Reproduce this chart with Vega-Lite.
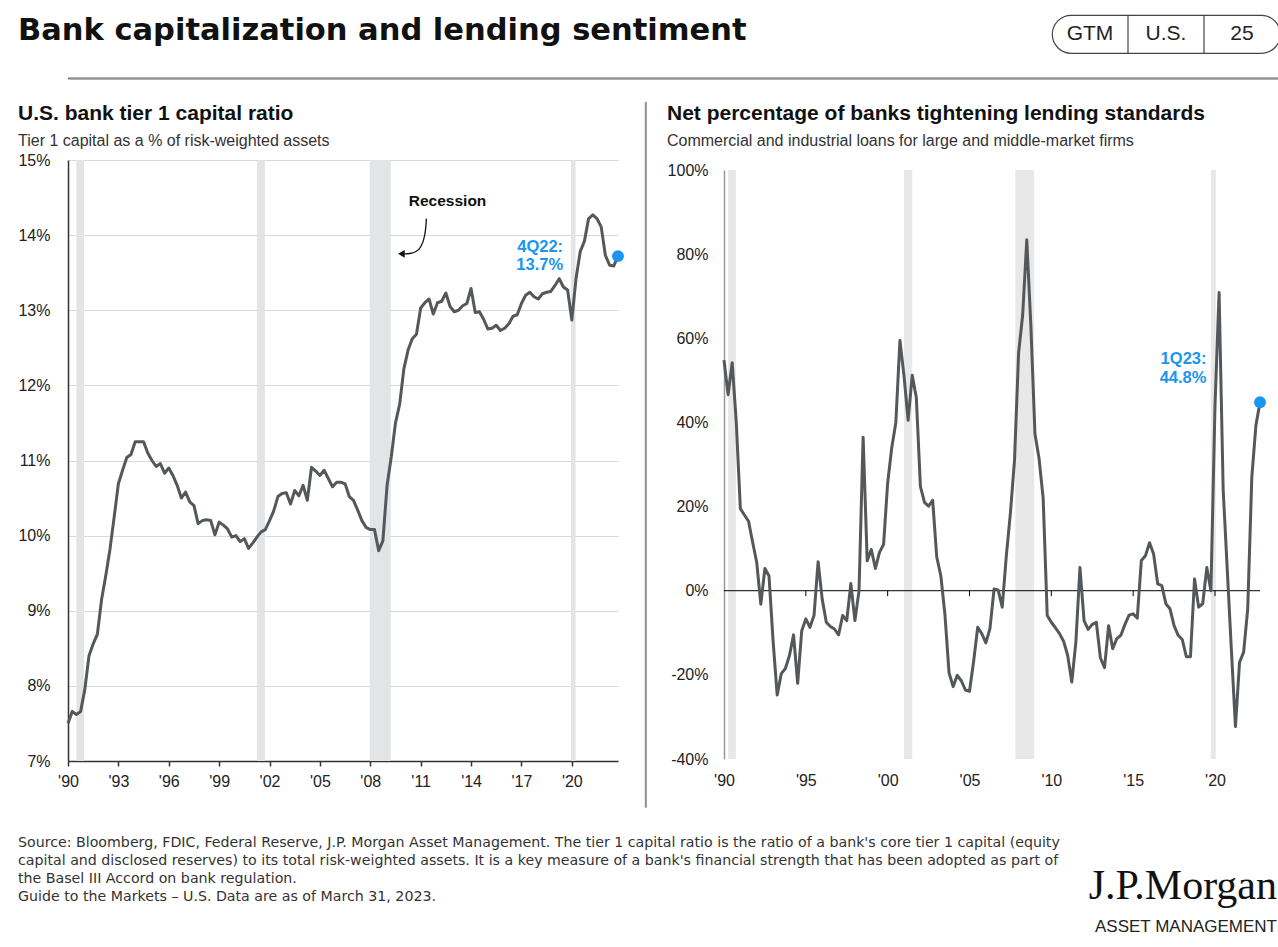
{
  "$schema": "https://vega.github.io/schema/vega-lite/v6.json",
  "background": "white",
  "padding": {"left": 17, "top": 13, "right": 0, "bottom": 0},
  "config": {
    "font": "Liberation Sans",
    "view": {"stroke": null},
    "axis": {"labelFont": "Liberation Sans", "labelFontSize": 16, "labelColor": "#222", "title": null},
    "title": {"font": "Liberation Sans"}
  },
  "datasets": {
    "tier1": [
      {"t":1990,"v":7.5},{"t":1990.25,"v":7.66},{"t":1990.5,"v":7.62},{"t":1990.75,"v":7.66},
      {"t":1991,"v":7.95},{"t":1991.25,"v":8.4},{"t":1991.5,"v":8.56},{"t":1991.75,"v":8.69},
      {"t":1992,"v":9.15},{"t":1992.25,"v":9.47},{"t":1992.5,"v":9.82},{"t":1992.75,"v":10.25},
      {"t":1993,"v":10.69},{"t":1993.25,"v":10.87},{"t":1993.5,"v":11.04},{"t":1993.75,"v":11.08},
      {"t":1994,"v":11.25},{"t":1994.25,"v":11.25},{"t":1994.5,"v":11.25},{"t":1994.75,"v":11.1},
      {"t":1995,"v":11.0},{"t":1995.25,"v":10.92},{"t":1995.5,"v":10.96},{"t":1995.75,"v":10.83},
      {"t":1996,"v":10.9},{"t":1996.25,"v":10.8},{"t":1996.5,"v":10.67},{"t":1996.75,"v":10.5},
      {"t":1997,"v":10.58},{"t":1997.25,"v":10.45},{"t":1997.5,"v":10.4},{"t":1997.75,"v":10.16},
      {"t":1998,"v":10.2},{"t":1998.25,"v":10.21},{"t":1998.5,"v":10.2},{"t":1998.75,"v":10.01},
      {"t":1999,"v":10.18},{"t":1999.25,"v":10.14},{"t":1999.5,"v":10.09},{"t":1999.75,"v":9.98},
      {"t":2000,"v":10.0},{"t":2000.25,"v":9.92},{"t":2000.5,"v":9.96},{"t":2000.75,"v":9.83},
      {"t":2001,"v":9.9},{"t":2001.25,"v":9.98},{"t":2001.5,"v":10.05},{"t":2001.75,"v":10.08},
      {"t":2002,"v":10.2},{"t":2002.25,"v":10.33},{"t":2002.5,"v":10.52},{"t":2002.75,"v":10.56},
      {"t":2003,"v":10.57},{"t":2003.25,"v":10.42},{"t":2003.5,"v":10.6},{"t":2003.75,"v":10.53},
      {"t":2004,"v":10.67},{"t":2004.25,"v":10.47},{"t":2004.5,"v":10.91},{"t":2004.75,"v":10.86},
      {"t":2005,"v":10.8},{"t":2005.25,"v":10.87},{"t":2005.5,"v":10.76},{"t":2005.75,"v":10.65},
      {"t":2006,"v":10.71},{"t":2006.25,"v":10.71},{"t":2006.5,"v":10.69},{"t":2006.75,"v":10.52},
      {"t":2007,"v":10.47},{"t":2007.25,"v":10.34},{"t":2007.5,"v":10.2},{"t":2007.75,"v":10.11},
      {"t":2008,"v":10.08},{"t":2008.25,"v":10.08},{"t":2008.5,"v":9.8},{"t":2008.75,"v":9.93},
      {"t":2009,"v":10.67},{"t":2009.25,"v":11.05},{"t":2009.5,"v":11.5},{"t":2009.75,"v":11.75},
      {"t":2010,"v":12.22},{"t":2010.25,"v":12.47},{"t":2010.5,"v":12.62},{"t":2010.75,"v":12.68},
      {"t":2011,"v":13.03},{"t":2011.25,"v":13.1},{"t":2011.5,"v":13.15},{"t":2011.75,"v":12.95},
      {"t":2012,"v":13.1},{"t":2012.25,"v":13.12},{"t":2012.5,"v":13.23},{"t":2012.75,"v":13.05},
      {"t":2013,"v":12.98},{"t":2013.25,"v":13.0},{"t":2013.5,"v":13.06},{"t":2013.75,"v":13.09},
      {"t":2014,"v":13.29},{"t":2014.25,"v":12.97},{"t":2014.5,"v":12.98},{"t":2014.75,"v":12.88},
      {"t":2015,"v":12.75},{"t":2015.25,"v":12.76},{"t":2015.5,"v":12.8},{"t":2015.75,"v":12.73},
      {"t":2016,"v":12.76},{"t":2016.25,"v":12.82},{"t":2016.5,"v":12.92},{"t":2016.75,"v":12.94},
      {"t":2017,"v":13.09},{"t":2017.25,"v":13.2},{"t":2017.5,"v":13.24},{"t":2017.75,"v":13.18},
      {"t":2018,"v":13.15},{"t":2018.25,"v":13.22},{"t":2018.5,"v":13.24},{"t":2018.75,"v":13.25},
      {"t":2019,"v":13.33},{"t":2019.25,"v":13.42},{"t":2019.5,"v":13.31},{"t":2019.75,"v":13.27},
      {"t":2020,"v":12.87},{"t":2020.25,"v":13.42},{"t":2020.5,"v":13.78},{"t":2020.75,"v":13.92},
      {"t":2021,"v":14.22},{"t":2021.25,"v":14.27},{"t":2021.5,"v":14.22},{"t":2021.75,"v":14.11},
      {"t":2022,"v":13.73},{"t":2022.25,"v":13.6},{"t":2022.5,"v":13.59},{"t":2022.75,"v":13.72}
    ],
    "sloos": [
      {"t":1990,"v":54.8},{"t":1990.25,"v":46.6},{"t":1990.5,"v":54.2},{"t":1990.75,"v":40},
      {"t":1991,"v":19.5},{"t":1991.25,"v":18},{"t":1991.5,"v":16.5},{"t":1991.75,"v":11.5},
      {"t":1992,"v":6.7},{"t":1992.25,"v":-3.2},{"t":1992.5,"v":5.3},{"t":1992.75,"v":3.5},
      {"t":1993,"v":-12},{"t":1993.25,"v":-24.8},{"t":1993.5,"v":-19.7},{"t":1993.75,"v":-18.5},
      {"t":1994,"v":-15.4},{"t":1994.25,"v":-10.5},{"t":1994.5,"v":-22},{"t":1994.75,"v":-9.5},
      {"t":1995,"v":-6.7},{"t":1995.25,"v":-8.7},{"t":1995.5,"v":-5.9},{"t":1995.75,"v":6.9},
      {"t":1996,"v":-2},{"t":1996.25,"v":-7.5},{"t":1996.5,"v":-8.5},{"t":1996.75,"v":-9.1},
      {"t":1997,"v":-10.5},{"t":1997.25,"v":-5.9},{"t":1997.5,"v":-7.1},{"t":1997.75,"v":1.7},
      {"t":1998,"v":-7.1},{"t":1998.25,"v":0},{"t":1998.5,"v":36.5},{"t":1998.75,"v":7.1},
      {"t":1999,"v":9.8},{"t":1999.25,"v":5.3},{"t":1999.5,"v":9.1},{"t":1999.75,"v":11},
      {"t":2000,"v":25.6},{"t":2000.25,"v":34},{"t":2000.5,"v":40},{"t":2000.75,"v":59.5},
      {"t":2001,"v":51},{"t":2001.25,"v":40.5},{"t":2001.5,"v":51.2},{"t":2001.75,"v":46},
      {"t":2002,"v":24.8},{"t":2002.25,"v":21},{"t":2002.5,"v":20.1},{"t":2002.75,"v":21.5},
      {"t":2003,"v":8},{"t":2003.25,"v":3.5},{"t":2003.5,"v":-5.7},{"t":2003.75,"v":-19.5},
      {"t":2004,"v":-22.8},{"t":2004.25,"v":-20.1},{"t":2004.5,"v":-21.4},{"t":2004.75,"v":-23.6},
      {"t":2005,"v":-23.9},{"t":2005.25,"v":-16.9},{"t":2005.5,"v":-8.7},{"t":2005.75,"v":-10.2},
      {"t":2006,"v":-12.4},{"t":2006.25,"v":-9},{"t":2006.5,"v":0.4},{"t":2006.75,"v":0.2},
      {"t":2007,"v":-3.9},{"t":2007.25,"v":8.3},{"t":2007.5,"v":18.5},{"t":2007.75,"v":31},
      {"t":2008,"v":56.5},{"t":2008.25,"v":65.6},{"t":2008.5,"v":83.4},{"t":2008.75,"v":63},
      {"t":2009,"v":37.3},{"t":2009.25,"v":31.4},{"t":2009.5,"v":22},{"t":2009.75,"v":-5.9},
      {"t":2010,"v":-7.5},{"t":2010.25,"v":-8.8},{"t":2010.5,"v":-10.2},{"t":2010.75,"v":-12},
      {"t":2011,"v":-15.4},{"t":2011.25,"v":-21.7},{"t":2011.5,"v":-12.2},{"t":2011.75,"v":5.5},
      {"t":2012,"v":-7.1},{"t":2012.25,"v":-9.2},{"t":2012.5,"v":-8},{"t":2012.75,"v":-7.5},
      {"t":2013,"v":-16},{"t":2013.25,"v":-18.3},{"t":2013.5,"v":-8.3},{"t":2013.75,"v":-13.8},
      {"t":2014,"v":-11.4},{"t":2014.25,"v":-10.6},{"t":2014.5,"v":-8},{"t":2014.75,"v":-5.8},
      {"t":2015,"v":-5.5},{"t":2015.25,"v":-6.5},{"t":2015.5,"v":7.2},{"t":2015.75,"v":8.3},
      {"t":2016,"v":11.4},{"t":2016.25,"v":8.7},{"t":2016.5,"v":1.6},{"t":2016.75,"v":1.2},
      {"t":2017,"v":-3.1},{"t":2017.25,"v":-4.3},{"t":2017.5,"v":-8.3},{"t":2017.75,"v":-10.6},
      {"t":2018,"v":-11.6},{"t":2018.25,"v":-15.7},{"t":2018.5,"v":-15.7},{"t":2018.75,"v":2.8},
      {"t":2019,"v":-3.9},{"t":2019.25,"v":-3.1},{"t":2019.5,"v":5.5},{"t":2019.75,"v":0},
      {"t":2020,"v":44},{"t":2020.25,"v":70.9},{"t":2020.5,"v":24},{"t":2020.75,"v":5},
      {"t":2021,"v":-14},{"t":2021.25,"v":-32.3},{"t":2021.5,"v":-17},{"t":2021.75,"v":-14.6},
      {"t":2022,"v":-4.3},{"t":2022.25,"v":27},{"t":2022.5,"v":39.3},{"t":2022.75,"v":44.8}
    ],
    "rec1": [
      {"start":1990.5,"end":1990.95},{"start":2001.25,"end":2001.72},{"start":2007.97,"end":2009.22},{"start":2019.95,"end":2020.22}
    ],
    "rec2": [
      {"start":1990.25,"end":1990.73},{"start":2001.0,"end":2001.5},{"start":2007.8,"end":2008.95},{"start":2019.75,"end":2020.05}
    ]
  },
  "spacing": 21.5,
  "vconcat": [
    {
      "spacing": 0,
      "hconcat": [
        {
          "width": 983,
          "height": 1,
          "data": {"values": []},
          "mark": "point",
          "title": {
            "text": "Bank capitalization and lending sentiment",
            "orient": "bottom",
            "anchor": "start",
            "frame": "group",
            "offset": 0,
            "dx": -50,
            "font": "DejaVu Sans",
            "fontSize": 30.5,
            "fontWeight": "bold",
            "color": "#111"
          }
        },
        {
          "width": 228,
          "height": 38,
          "view": {"stroke": "#444", "strokeWidth": 1.2, "cornerRadius": 19},
          "data": {"values": [{"k": "GTM"}, {"k": "U.S."}, {"k": "25"}]},
          "layer": [
            {
              "mark": {"type": "text", "fontSize": 21, "color": "#222", "font": "Liberation Sans"},
              "encoding": {
                "x": {"field": "k", "type": "nominal", "scale": {"domain": ["GTM", "U.S.", "25"], "paddingInner": 0, "paddingOuter": 0}, "axis": null},
                "text": {"field": "k"}
              }
            },
            {
              "transform": [{"filter": "datum.k !== 'GTM'"}],
              "mark": {"type": "rule", "color": "#444", "strokeWidth": 1.2},
              "encoding": {
                "x": {"field": "k", "type": "nominal", "bandPosition": 0, "axis": null}
              }
            }
          ]
        }
      ]
    },
    {
      "width": 1211,
      "height": 1,
      "data": {"values": []},
      "mark": "point",
      "view": {"stroke": "#666", "strokeWidth": 1}
    },
    {
      "spacing": 20,
      "hconcat": [
        {
          "spacing": 3,
          "vconcat": [
            {
              "width": 550,
              "height": 1,
              "data": {"values": []},
              "mark": "point",
              "title": {
                "text": "U.S. bank tier 1 capital ratio",
                "subtitle": "Tier 1 capital as a % of risk-weighted assets",
                "orient": "bottom",
                "anchor": "start",
                "frame": "group",
                "offset": 0,
                "dx": -50,
                "fontSize": 21,
                "fontWeight": "bold",
                "color": "#111",
                "subtitleFont": "Liberation Sans",
                "subtitleFontSize": 16,
                "subtitleColor": "#333",
                "subtitlePadding": 9
              }
            },
            {
              "width": 550,
              "height": 601,
              "layer": [
                {
                  "data": {"name": "rec1"},
                  "mark": {"type": "rect", "color": "#e3e4e6"},
                  "encoding": {
                    "x": {
                      "field": "start", "type": "quantitative",
                      "scale": {"domain": [1990, 2022.75], "nice": false, "zero": false},
                      "axis": {
                        "values": [1990, 1993, 1996, 1999, 2002, 2005, 2008, 2011, 2014, 2017, 2020],
                        "labelExpr": "\"'\" + slice(toString(datum.value), 2)",
                        "grid": false,
                        "domainColor": "#333", "domainWidth": 1.5,
                        "tickColor": "#333", "tickSize": 5, "tickWidth": 1.5,
                        "labelPadding": 7, "labelFlush": false, "labelOverlap": false
                      }
                    },
                    "x2": {"field": "end"}
                  }
                },
                {
                  "data": {"name": "tier1"},
                  "mark": {"type": "line", "color": "#55585b", "strokeWidth": 3, "strokeJoin": "round"},
                  "encoding": {
                    "x": {"field": "t", "type": "quantitative"},
                    "y": {
                      "field": "v", "type": "quantitative",
                      "scale": {"domain": [7, 15], "nice": false, "zero": false},
                      "axis": {
                        "values": [7, 8, 9, 10, 11, 12, 13, 14, 15],
                        "labelExpr": "datum.value + '%'",
                        "ticks": false,
                        "domainColor": "#333", "domainWidth": 1.5,
                        "gridColor": "#dadada", "gridWidth": 1,
                        "labelPadding": 18
                      }
                    }
                  }
                },
                {
                  "data": {"name": "tier1"},
                  "transform": [{"filter": "datum.t == 2022.75"}],
                  "mark": {"type": "circle", "color": "#1a96f0", "size": 140, "opacity": 1},
                  "encoding": {
                    "x": {"field": "t", "type": "quantitative"},
                    "y": {"field": "v", "type": "quantitative"}
                  }
                },
                {
                  "data": {"values": [{"t": 2019.48, "v": 13.775, "label": "4Q22:\n13.7%"}]},
                  "mark": {"type": "text", "align": "right", "baseline": "alphabetic", "fontSize": 16.5, "fontWeight": "bold", "color": "#1a96f0", "lineBreak": "\n", "lineHeight": 18},
                  "encoding": {
                    "x": {"field": "t", "type": "quantitative"},
                    "y": {"field": "v", "type": "quantitative"},
                    "text": {"field": "label"}
                  }
                },
                {
                  "data": {"values": [{"t": 2012.6, "v": 14.45, "label": "Recession"}]},
                  "mark": {"type": "text", "baseline": "middle", "fontSize": 15.5, "fontWeight": "bold", "color": "#111"},
                  "encoding": {
                    "x": {"field": "t", "type": "quantitative"},
                    "y": {"field": "v", "type": "quantitative"},
                    "text": {"field": "label"}
                  }
                },
                {
                  "data": {"values": [
                    {"i": 0, "t": 2011.34, "v": 14.22},
                    {"i": 1, "t": 2011.28, "v": 14.0},
                    {"i": 2, "t": 2011.04, "v": 13.84},
                    {"i": 3, "t": 2010.74, "v": 13.775},
                    {"i": 4, "t": 2010.35, "v": 13.752},
                    {"i": 5, "t": 2010.0, "v": 13.75}
                  ]},
                  "mark": {"type": "line", "interpolate": "basis", "color": "#111", "strokeWidth": 1.3},
                  "encoding": {
                    "x": {"field": "t", "type": "quantitative"},
                    "y": {"field": "v", "type": "quantitative"},
                    "order": {"field": "i"}
                  }
                },
                {
                  "data": {"values": [{"t": 2009.85, "v": 13.752}]},
                  "mark": {"type": "point", "shape": "triangle-left", "filled": true, "color": "#111", "size": 60, "opacity": 1},
                  "encoding": {
                    "x": {"field": "t", "type": "quantitative"},
                    "y": {"field": "v", "type": "quantitative"}
                  }
                }
              ]
            }
          ]
        },
        {
          "width": 1,
          "height": 705,
          "data": {"values": []},
          "mark": "point",
          "view": {"stroke": "#666", "strokeWidth": 0.8}
        },
        {
          "spacing": 13,
          "vconcat": [
            {
              "width": 536,
              "height": 1,
              "data": {"values": []},
              "mark": "point",
              "title": {
                "text": "Net percentage of banks tightening lending standards",
                "subtitle": "Commercial and industrial loans for large and middle-market firms",
                "orient": "bottom",
                "anchor": "start",
                "frame": "group",
                "offset": 0,
                "dx": -57,
                "fontSize": 21,
                "fontWeight": "bold",
                "color": "#111",
                "subtitleFont": "Liberation Sans",
                "subtitleFontSize": 16,
                "subtitleColor": "#333",
                "subtitlePadding": 9
              }
            },
            {
              "width": 536,
              "height": 589,
              "layer": [
                {
                  "data": {"name": "rec2"},
                  "mark": {"type": "rect", "color": "#e8e8e8"},
                  "encoding": {
                    "x": {
                      "field": "start", "type": "quantitative",
                      "scale": {"domain": [1990, 2022.75], "nice": false, "zero": false},
                      "axis": {
                        "values": [1990, 1995, 2000, 2005, 2010, 2015, 2020],
                        "labelExpr": "\"'\" + slice(toString(datum.value), 2)",
                        "grid": false, "domain": false, "ticks": false,
                        "labelPadding": 13, "labelFlush": false, "labelOverlap": false
                      }
                    },
                    "x2": {"field": "end"}
                  }
                },
                {
                  "data": {"values": [{}]},
                  "mark": {"type": "rule", "color": "#000", "strokeWidth": 1},
                  "encoding": {"y": {"datum": 0, "type": "quantitative"}}
                },
                {
                  "data": {"values": [{"t": 1995}, {"t": 2000}, {"t": 2005}, {"t": 2010}, {"t": 2015}, {"t": 2020}]},
                  "mark": {"type": "rule", "color": "#000", "strokeWidth": 1},
                  "encoding": {
                    "x": {"field": "t", "type": "quantitative"},
                    "y": {"datum": 0, "type": "quantitative"},
                    "y2": {"datum": -1.3}
                  }
                },
                {
                  "data": {"name": "sloos"},
                  "mark": {"type": "line", "color": "#55585b", "strokeWidth": 3, "strokeJoin": "round"},
                  "encoding": {
                    "x": {"field": "t", "type": "quantitative"},
                    "y": {
                      "field": "v", "type": "quantitative",
                      "scale": {"domain": [-40, 100], "nice": false, "zero": false},
                      "axis": {
                        "values": [-40, -20, 0, 20, 40, 60, 80, 100],
                        "labelExpr": "datum.value + '%'",
                        "ticks": false,
                        "domainColor": "#999", "domainWidth": 1.5,
                        "gridColor": "#dadada", "gridWidth": 1,
                        "labelPadding": 16
                      }
                    }
                  }
                },
                {
                  "data": {"name": "sloos"},
                  "transform": [{"filter": "datum.t == 2022.75"}],
                  "mark": {"type": "circle", "color": "#1a96f0", "size": 140, "opacity": 1},
                  "encoding": {
                    "x": {"field": "t", "type": "quantitative"},
                    "y": {"field": "v", "type": "quantitative"}
                  }
                },
                {
                  "data": {"values": [{"t": 2019.48, "v": 53.8, "label": "1Q23:\n44.8%"}]},
                  "mark": {"type": "text", "align": "right", "baseline": "alphabetic", "fontSize": 16.5, "fontWeight": "bold", "color": "#1a96f0", "lineBreak": "\n", "lineHeight": 19},
                  "encoding": {
                    "x": {"field": "t", "type": "quantitative"},
                    "y": {"field": "v", "type": "quantitative"},
                    "text": {"field": "label"}
                  }
                }
              ]
            }
          ]
        }
      ]
    },
    {
      "spacing": 0,
      "hconcat": [
        {
          "width": 1004,
          "height": 1,
          "data": {"values": []},
          "mark": "point",
          "title": {
            "text": [
              "Source: Bloomberg, FDIC, Federal Reserve, J.P. Morgan Asset Management. The tier 1 capital ratio is  the ratio of a bank's core tier 1 capital (equity",
              "capital and disclosed reserves) to its total risk-weighted assets. It is a key measure of a bank's financial strength that has been adopted as part of",
              "the Basel III Accord on bank regulation.",
              "Guide to the Markets – U.S. Data are as of March 31, 2023."
            ],
            "orient": "bottom",
            "anchor": "start",
            "frame": "group",
            "dx": -50,
            "font": "DejaVu Sans",
            "fontSize": 14.2,
            "fontWeight": "normal",
            "color": "#333",
            "lineHeight": 18,
            "offset": 5
          }
        },
        {
          "width": 205,
          "height": 1,
          "data": {"values": []},
          "mark": "point",
          "title": {
            "text": "J.P.Morgan",
            "subtitle": "ASSET MANAGEMENT",
            "orient": "bottom",
            "anchor": "end",
            "frame": "group",
            "font": "Liberation Serif",
            "fontSize": 42,
            "fontWeight": "normal",
            "color": "#111",
            "subtitleFont": "Liberation Sans",
            "subtitleFontSize": 17,
            "subtitleColor": "#222",
            "subtitlePadding": 11,
            "offset": 35
          }
        }
      ]
    }
  ]
}
